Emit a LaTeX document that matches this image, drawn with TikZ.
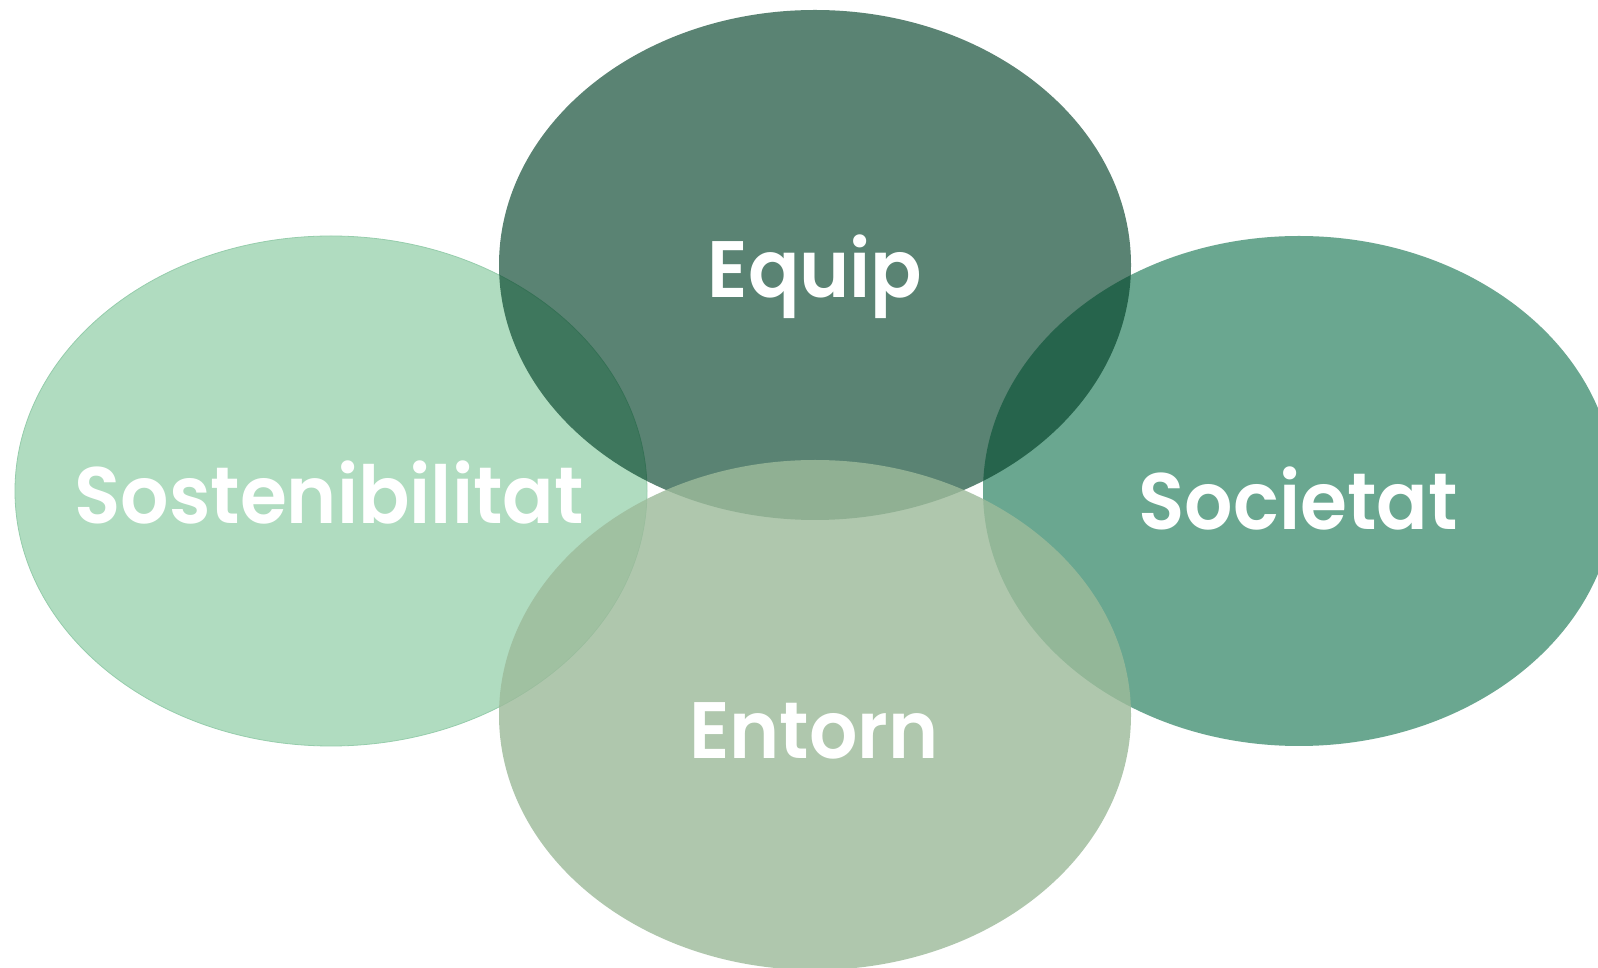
\documentclass[tikz,border=0pt]{standalone}
\usepackage{fontspec}
\setmainfont{Poppins}
\newfontfamily\lblfont{Poppins SemiBold}[FakeStretch=0.95]
\usetikzlibrary{shapes.geometric}
\definecolor{cLeft}{RGB}{176,220,192}
\definecolor{cLeftEdge}{RGB}{150,205,172}
\definecolor{cRight}{RGB}{106,167,144}
\definecolor{cTop}{RGB}{2,65,40}
\definecolor{cBottom}{RGB}{157,187,155}
\tikzset{
  bubble/.style={ellipse, inner sep=0pt, minimum width=632pt, minimum height=510pt},
  lbl/.style={text=white, font=\fontsize{80}{80}\lblfont, anchor=base, inner sep=0pt}
}
\begin{document}
\begin{tikzpicture}[x=1pt,y=1pt]
\useasboundingbox (0,0) rectangle (1598,967);
\clip (0,0) rectangle (1598,967);
\fill[white] (0,0) rectangle (1598,967);
\node[bubble, fill=cLeft, draw=cLeftEdge, line width=0.8pt] (sost) at (331,476) {};
\node[bubble, fill=cRight] (soc) at (1299,476) {};
\node[bubble, fill=cTop, fill opacity=0.65] (equip) at (815,702) {};
\node[bubble, fill=cBottom, fill opacity=0.81] (ent) at (815,252) {};
\node[lbl] (tEquip) at (815,669) {Equip};
\node[lbl] (tSost) at (329,443) {Sostenibilitat};
\node[lbl] (tSoc) at (1298,437) {Societat};
\node[lbl] (tEnt) at (814,208) {Entorn};
\end{tikzpicture}
\end{document}
